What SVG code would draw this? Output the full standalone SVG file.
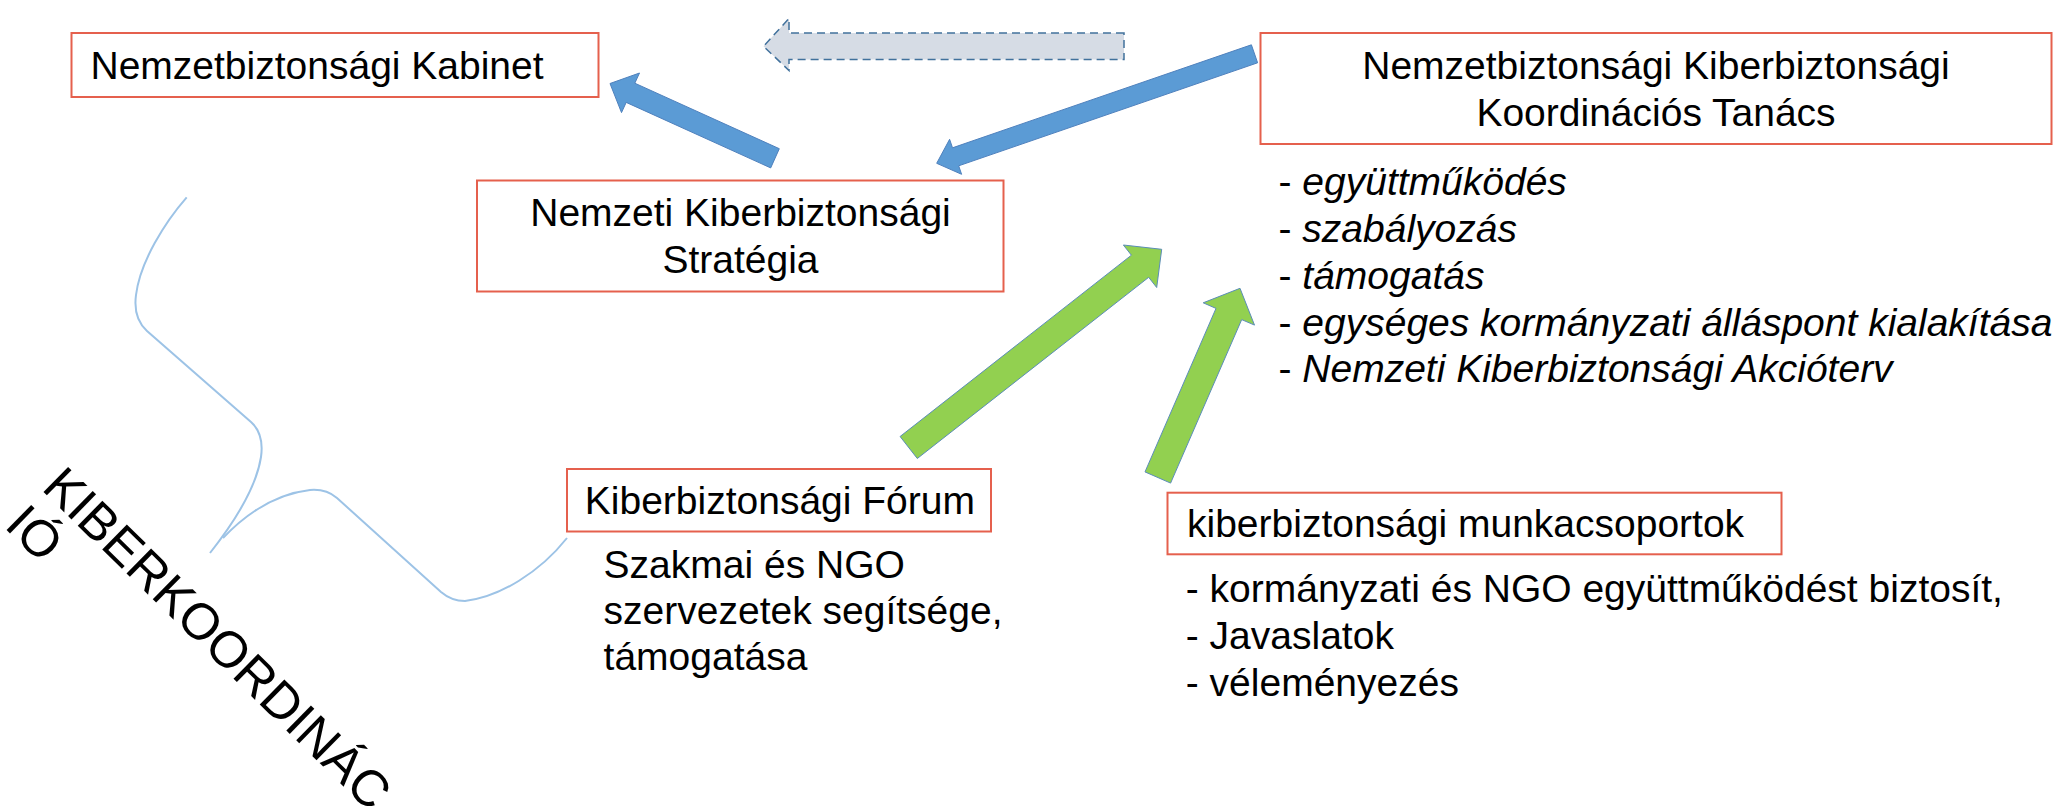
<svg xmlns="http://www.w3.org/2000/svg" width="2061" height="806" viewBox="0 0 2061 806">
  <style>
    .box { fill: #ffffff; stroke: #E5604D; stroke-width: 2; }
    .t { font-family: "Liberation Sans", Arial, sans-serif; font-size: 39px; fill: #000000; }
    .it { font-style: italic; }
    .blue { fill: #5B9BD5; stroke: #4F81BD; stroke-width: 1; }
    .green { fill: #92D050; stroke: #5B8DB8; stroke-width: 1; }
    .dashed { fill: #D6DCE5; stroke: #41719C; stroke-width: 1.5; stroke-dasharray: 8 5; }
    .brace { fill: none; stroke: #9DC3E6; stroke-width: 2; }
  </style>
  <rect width="2061" height="806" fill="#ffffff"/>

  <g id="connectors">
    <polygon class="dashed" points="1124,33 789,33 789,18.5 763.5,46.3 789,70.5 789,59.5 1124,59.5"/>
    <polygon class="blue" points="610,83.5 639.5,73 634.8,83.2 779.3,148.7 770.7,167.9 626.2,102.4 621.5,112.6"/>
    <polygon class="blue" points="936.7,163.3 949.6,139.3 952.5,147.8 1251.4,44.8 1257.6,62.8 958.7,165.8 961.6,174.3"/>
    <polygon class="green" points="1161.7,249.3 1156.7,287.5 1148.7,277.3 917.3,458.5 900.1,436.5 1131.4,255.2 1123.4,245"/>
    <polygon class="green" points="1240,288.3 1254.5,325.1 1241.7,319.6 1170.6,483.1 1145,471.9 1216,308.4 1203.2,302.8"/>
    <path class="brace" d="M186.7,197.3 C165,222 140,262 136,295 C134,310 137,322 147,331 L251,422 C261,431 263,443 261,457 C257,483 240,515 210,553"/>
    <path class="brace" d="M223,538 C245,515 275,494 310,490 C322,489 330,492 337,498 L441,592 C448,598 456,601 465,601 C500,597 540,572 567,538"/>
  </g>

  <g id="node-kabinet">
    <rect class="box" x="71.5" y="33" width="527" height="64"/>
    <text class="t" x="90.5" y="79.3">Nemzetbiztonsági Kabinet</text>
  </g>

  <g id="node-strategia">
    <rect class="box" x="477" y="180.5" width="526.5" height="111"/>
    <text class="t" x="740.5" y="226" text-anchor="middle">Nemzeti Kiberbiztonsági</text>
    <text class="t" x="740.5" y="273" text-anchor="middle">Stratégia</text>
  </g>

  <g id="node-nkkt">
    <rect class="box" x="1260.5" y="33" width="791" height="111"/>
    <text class="t" x="1656" y="79.3" text-anchor="middle">Nemzetbiztonsági Kiberbiztonsági</text>
    <text class="t" x="1656" y="126" text-anchor="middle">Koordinációs Tanács</text>
  </g>

  <g id="nkkt-list">
    <text class="t" x="1278.5" y="195">- <tspan class="it">együttműködés</tspan></text>
    <text class="t" x="1278.5" y="242">- <tspan class="it">szabályozás</tspan></text>
    <text class="t" x="1278.5" y="289">- <tspan class="it">támogatás</tspan></text>
    <text class="t" x="1278.5" y="335.5">- <tspan class="it">egységes kormányzati álláspont kialakítása</tspan></text>
    <text class="t" x="1278.5" y="382">- <tspan class="it">Nemzeti Kiberbiztonsági Akcióterv</tspan></text>
  </g>

  <g id="node-forum">
    <rect class="box" x="567" y="469" width="424" height="62.5"/>
    <text class="t" x="584.8" y="514">Kiberbiztonsági Fórum</text>
  </g>

  <g id="forum-desc">
    <text class="t" x="603.6" y="577.5">Szakmai és NGO</text>
    <text class="t" x="603.6" y="623.5">szervezetek segítsége,</text>
    <text class="t" x="603.6" y="669.5">támogatása</text>
  </g>

  <g id="node-munkacsoportok">
    <rect class="box" x="1167.5" y="492.7" width="614" height="61.6"/>
    <text class="t" x="1187" y="537.3">kiberbiztonsági munkacsoportok</text>
  </g>

  <g id="munkacsoportok-list">
    <text class="t" x="1185.8" y="601.7">- kormányzati és NGO együttműködést biztosít,</text>
    <text class="t" x="1185.8" y="649">- Javaslatok</text>
    <text class="t" x="1185.8" y="695.7">- véleményezés</text>
  </g>

  <g id="label-kiberkoordinacio">
    <text class="t" style="font-size:51px" transform="translate(40.5,489) rotate(44.5)">KIBERKOORDINÁC</text>
    <text class="t" style="font-size:51px" transform="translate(40.5,489) rotate(44.5)" y="53">IÓ</text>
  </g>
</svg>
